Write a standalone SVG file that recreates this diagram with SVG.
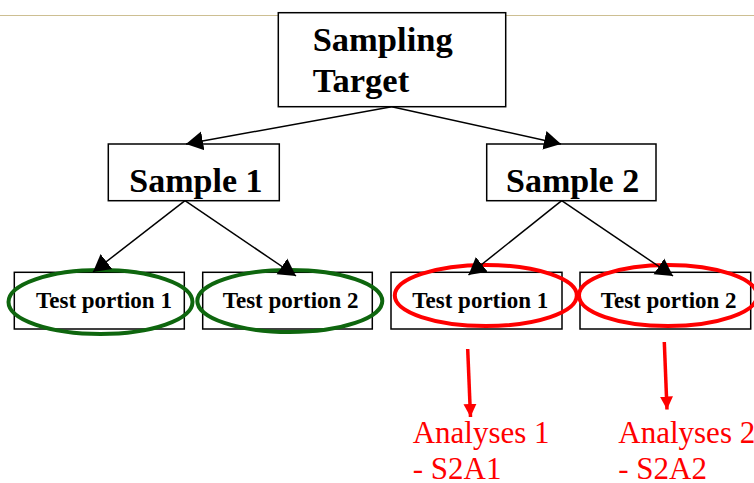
<svg xmlns="http://www.w3.org/2000/svg" width="754" height="483" viewBox="0 0 754 483">
<defs>
<style>
.box{fill:#fff;stroke:#000;stroke-width:1.5}
.big{font-family:"Liberation Serif","Times New Roman",serif;font-weight:bold;fill:#000}
.tp{font-family:"Liberation Serif","Times New Roman",serif;font-weight:bold;font-size:23px;fill:#000}
.red{font-family:"Liberation Serif","Times New Roman",serif;font-size:31px;fill:#ff0000}
.conn{stroke:#000;stroke-width:1.5;fill:none;marker-end:url(#ah)}
.rconn{stroke:#ff0000;stroke-width:3.5;fill:none;marker-end:url(#rh)}
.g{fill:none;stroke:#0e660e;stroke-width:4}
.r{fill:none;stroke:#ff0000;stroke-width:4}
</style>
<marker id="ah" markerUnits="userSpaceOnUse" markerWidth="20" markerHeight="22" viewBox="0 -11 20 22" refX="17" refY="0" orient="auto">
<path d="M0,-9.5 L17,0 L0,9.5 z" fill="#000"/>
</marker>
<marker id="rh" markerUnits="userSpaceOnUse" markerWidth="14" markerHeight="14" viewBox="0 -7 14 14" refX="13" refY="0" orient="auto">
<path d="M0,-6.5 L13,0 L0,6.5 z" fill="#ff0000"/>
</marker>
</defs>
<rect width="754" height="483" fill="#fff"/>
<line x1="0" y1="15.5" x2="754" y2="15.5" stroke="#cdbf92" stroke-width="1"/>
<g id="target">
<rect class="box" x="278.3" y="12.7" width="227.4" height="94"/>
<text class="big" font-size="34.5" x="312.7" y="50.7">Sampling</text>
<text class="big" font-size="34.5" x="312.7" y="91.7">Target</text>
</g>
<g id="sample1">
<rect class="box" x="108.3" y="144" width="171" height="56.7"/>
<text class="big" font-size="34" x="129.3" y="191.7">Sample 1</text>
</g>
<g id="sample2">
<rect class="box" x="486.7" y="144" width="169.3" height="56.7"/>
<text class="big" font-size="34" x="506" y="191.7">Sample 2</text>
</g>
<g id="s1tp1">
<rect class="box" x="14.3" y="272.3" width="170" height="56.7"/>
<text class="tp" x="36" y="308.3">Test portion 1</text>
<ellipse class="g" cx="100.5" cy="302" rx="92" ry="32"/>
</g>
<g id="s1tp2">
<rect class="box" x="202.7" y="272.3" width="169.6" height="56.7"/>
<text class="tp" x="222.7" y="308.3">Test portion 2</text>
<ellipse class="g" cx="289.8" cy="301" rx="92.5" ry="31"/>
</g>
<g id="s2tp1">
<rect class="box" x="391" y="272.3" width="171" height="56.7"/>
<text class="tp" x="412.3" y="308.3">Test portion 1</text>
<ellipse class="r" cx="485.8" cy="295.5" rx="91" ry="30.5"/>
</g>
<g id="s2tp2">
<rect class="box" x="580" y="272.3" width="170.7" height="56.7"/>
<text class="tp" x="600.7" y="308.3">Test portion 2</text>
<ellipse class="r" cx="668" cy="295.5" rx="89" ry="30.5"/>
</g>
<g id="analyses1">
<text class="red" x="412.7" y="442.7">Analyses 1</text>
<text class="red" x="412.7" y="479">- S2A1</text>
</g>
<g id="analyses2">
<text class="red" x="618.3" y="442.7">Analyses 2</text>
<text class="red" x="618.3" y="479">- S2A2</text>
</g>
<g id="connectors">
<line class="conn" x1="391.7" y1="106.7" x2="186" y2="144"/>
<line class="conn" x1="391.7" y1="106.7" x2="561" y2="144"/>
<line class="conn" x1="185" y1="200.7" x2="93" y2="272"/>
<line class="conn" x1="185" y1="200.7" x2="296" y2="276"/>
<line class="conn" x1="561.7" y1="200.7" x2="468.5" y2="275"/>
<line class="conn" x1="561.7" y1="200.7" x2="673" y2="276"/>
<line class="rconn" x1="467.7" y1="349" x2="470.5" y2="417"/>
<line class="rconn" x1="664.3" y1="342" x2="667" y2="409.5"/>
</g>
</svg>
